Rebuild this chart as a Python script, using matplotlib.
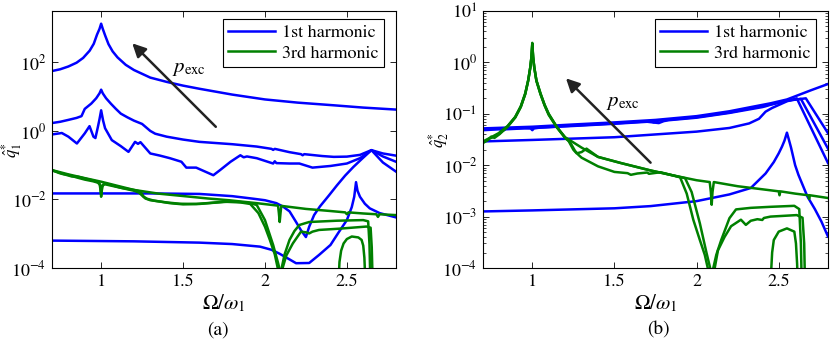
import matplotlib
matplotlib.use("Agg")
import matplotlib.pyplot as plt
from matplotlib.lines import Line2D
from matplotlib.ticker import NullLocator, LogLocator

plt.rcParams['font.family'] = 'serif'
plt.rcParams['font.serif'] = ['STIXGeneral', 'Liberation Serif', 'DejaVu Serif']
plt.rcParams['mathtext.fontset'] = 'stix'

BLUE = '#0000ff'
GREEN = '#008000'

xticks = [1, 1.5, 2, 2.5]
xtick_labels = ['1', '1.5', '2', '2.5']
legend_labels = ['1st harmonic', '3rd harmonic']

# ---------------- panel (a): q1 ----------------
a_b1_x = [0.70, 0.75, 0.80, 0.85, 0.89, 0.93, 0.955, 0.975, 0.99, 1.0, 1.01, 1.025, 1.045, 1.07, 1.10, 1.15, 1.20, 1.30, 1.40, 1.50, 1.60, 1.80, 2.0, 2.2, 2.42, 2.6, 2.8]
a_b1_y = [56, 63, 76, 98, 135, 220, 350, 650, 950, 1350, 950, 600, 340, 210, 140, 85, 60, 36, 27, 21, 17, 11.5, 8.3, 6.7, 5.6, 4.8, 4.2]

a_b2_x = [0.70, 0.75, 0.80, 0.85, 0.88, 0.90, 0.94, 0.97, 0.99, 1.0, 1.01, 1.03, 1.06, 1.09, 1.12, 1.16, 1.20, 1.23, 1.25, 1.30, 1.33, 1.40, 1.50, 1.60, 1.80, 1.95, 2.04, 2.05, 2.06, 2.15, 2.22, 2.23, 2.24, 2.35, 2.42, 2.50, 2.58, 2.65, 2.72, 2.80]
a_b2_y = [1.70, 1.85, 2.1, 2.4, 2.7, 4.4, 6.3, 9.0, 12.5, 16, 12.5, 9.0, 6.2, 4.4, 3.2, 2.5, 2.0, 1.75, 1.6, 1.0, 0.83, 0.68, 0.56, 0.48, 0.41, 0.35, 0.30, 0.28, 0.30, 0.24, 0.21, 0.195, 0.21, 0.185, 0.175, 0.178, 0.20, 0.275, 0.22, 0.19]

a_b3_x = [0.70, 0.76, 0.80, 0.852, 0.90, 0.929, 0.953, 0.965, 0.98, 0.99, 1.0, 1.012, 1.024, 1.065, 1.12, 1.167, 1.207, 1.225, 1.24, 1.30, 1.36, 1.42, 1.49, 1.52, 1.58, 1.685, 1.726, 1.79, 1.85, 1.87, 1.89, 1.95, 2.05, 2.06, 2.07, 2.15, 2.21, 2.29, 2.40, 2.50, 2.58, 2.65, 2.72, 2.80]
a_b3_y = [0.79, 0.87, 0.68, 0.43, 0.85, 1.38, 0.68, 0.62, 1.3, 2.2, 4.0, 2.0, 1.2, 0.54, 0.36, 0.245, 0.48, 0.42, 0.47, 0.22, 0.19, 0.16, 0.126, 0.085, 0.085, 0.051, 0.072, 0.126, 0.195, 0.17, 0.18, 0.16, 0.112, 0.13, 0.115, 0.112, 0.112, 0.085, 0.095, 0.112, 0.16, 0.275, 0.12, 0.065]

a_b4_x = [0.70, 1.30, 1.60, 1.80, 1.93, 2.00, 2.07, 2.11, 2.15, 2.19, 2.22, 2.25, 2.27, 2.30, 2.335, 2.39, 2.44, 2.49, 2.54, 2.59, 2.65, 2.72, 2.80]
a_b4_y = [0.015, 0.015, 0.0145, 0.0125, 0.0105, 0.0095, 0.0078, 0.0062, 0.0045, 0.0022, 0.00126, 0.0008, 0.0016, 0.0035, 0.0062, 0.013, 0.026, 0.05, 0.089, 0.15, 0.275, 0.18, 0.126]

a_b5_x = [0.70, 1.20, 1.60, 1.80, 1.97, 2.04, 2.09, 2.14, 2.19, 2.27, 2.33, 2.40, 2.45, 2.50, 2.53, 2.545, 2.556, 2.565, 2.58, 2.61, 2.64, 2.70, 2.80]
a_b5_y = [6.3e-4, 6.0e-4, 5.5e-4, 5.0e-4, 4.2e-4, 3.4e-4, 2.6e-4, 1.9e-4, 1.38e-4, 1.4e-4, 2.4e-4, 4.7e-4, 1.1e-3, 2.5e-3, 6.0e-3, 1.2e-2, 3.2e-2, 1.8e-2, 1.2e-2, 7.5e-3, 5.5e-3, 4.0e-3, 3.0e-3]

a_g1_x = [0.70, 0.80, 0.90, 1.00, 1.10, 1.20, 1.35, 1.50, 1.65, 1.78, 1.95, 2.08, 2.085, 2.09, 2.095, 2.10, 2.25, 2.40, 2.49, 2.50, 2.51, 2.60, 2.68, 2.69, 2.70, 2.80]
a_g1_y = [0.072, 0.054, 0.042, 0.033, 0.025, 0.019, 0.0148, 0.0126, 0.0107, 0.0095, 0.0078, 0.0066, 0.0040, 0.0022, 0.004, 0.0065, 0.0053, 0.0046, 0.0042, 0.0037, 0.0042, 0.0039, 0.0037, 0.0031, 0.0037, 0.0035]

a_g2_x = [0.70, 0.74, 0.76, 0.80, 0.85, 0.90, 0.95, 0.98, 0.995, 1.0, 1.005, 1.02, 1.10, 1.20, 1.23, 1.25, 1.27, 1.30, 1.40, 1.48, 1.58, 1.66, 1.75, 1.85, 1.91, 1.96, 2.00, 2.03, 2.06, 2.08, 2.10, 2.12, 2.15, 2.18, 2.21, 2.27, 2.44, 2.60, 2.63, 2.638, 2.643]
a_g2_y = [0.072, 0.060, 0.056, 0.052, 0.044, 0.038, 0.034, 0.031, 0.026, 0.012, 0.024, 0.028, 0.023, 0.018, 0.016, 0.013, 0.0107, 0.0095, 0.0082, 0.0075, 0.0074, 0.0079, 0.0086, 0.0082, 0.0074, 0.004, 0.0016, 6.6e-4, 2.5e-4, 9e-5, 9e-5, 2.5e-4, 6.6e-4, 1.2e-3, 1.8e-3, 2.2e-3, 2.4e-3, 2.5e-3, 2.3e-3, 5e-4, 5e-5]

a_g3_x = [0.70, 0.73, 0.77, 0.82, 0.86, 0.90, 0.96, 0.99, 1.0, 1.01, 1.03, 1.12, 1.20, 1.24, 1.26, 1.28, 1.32, 1.42, 1.50, 1.60, 1.70, 1.80, 1.90, 1.95, 2.00, 2.05, 2.08, 2.09, 2.105, 2.13, 2.17, 2.22, 2.25, 2.27, 2.29, 2.33, 2.45, 2.62, 2.645, 2.652, 2.657]
a_g3_y = [0.070, 0.064, 0.055, 0.047, 0.046, 0.041, 0.035, 0.030, 0.014, 0.027, 0.029, 0.022, 0.019, 0.017, 0.012, 0.0105, 0.0093, 0.0078, 0.0072, 0.0074, 0.0081, 0.0088, 0.0080, 0.0069, 0.0025, 4.7e-4, 1.4e-4, 9e-5, 9e-5, 2.3e-4, 5.2e-4, 1.15e-3, 1.1e-3, 1.02e-3, 1.15e-3, 1.29e-3, 1.4e-3, 1.62e-3, 1.5e-3, 4e-4, 5e-5]

a_g4_x = [2.45, 2.455, 2.465, 2.48, 2.50, 2.53, 2.57, 2.59, 2.60, 2.607, 2.612]
a_g4_y = [5e-5, 1.5e-4, 3.2e-4, 5.2e-4, 7e-4, 8.3e-4, 7.8e-4, 6.6e-4, 4.5e-4, 2e-4, 5e-5]

# ---------------- panel (b): q2 ----------------
b_b1_x = [0.70, 1.00, 1.25, 1.50, 1.75, 2.00, 2.20, 2.33, 2.45, 2.55, 2.61, 2.70, 2.80]
b_b1_y = [0.052, 0.056, 0.062, 0.068, 0.076, 0.090, 0.112, 0.135, 0.16, 0.19, 0.225, 0.29, 0.38]

b_b2_x = [0.70, 0.95, 0.99, 1.0, 1.01, 1.05, 1.25, 1.50, 1.72, 1.74, 1.76, 2.00, 2.20, 2.33, 2.45, 2.55, 2.635, 2.80]
b_b2_y = [0.050, 0.053, 0.052, 0.048, 0.052, 0.054, 0.059, 0.065, 0.072, 0.068, 0.073, 0.086, 0.106, 0.128, 0.152, 0.18, 0.195, 0.021]

b_b3_x = [0.70, 0.80, 0.82, 0.84, 1.0, 1.25, 1.50, 1.70, 1.77, 1.80, 1.83, 2.00, 2.20, 2.40, 2.42, 2.45, 2.55, 2.665, 2.80]
b_b3_y = [0.048, 0.050, 0.047, 0.050, 0.053, 0.058, 0.064, 0.070, 0.066, 0.072, 0.075, 0.084, 0.104, 0.135, 0.14, 0.15, 0.18, 0.20, 0.042]

b_b4_x = [0.70, 1.00, 1.50, 2.00, 2.20, 2.32, 2.38, 2.42, 2.46, 2.55, 2.61, 2.80]
b_b4_y = [0.029, 0.031, 0.035, 0.045, 0.053, 0.065, 0.080, 0.11, 0.13, 0.175, 0.20, 0.011]

b_b5_x = [0.70, 1.00, 1.50, 1.72, 2.00, 2.20, 2.33, 2.42, 2.47, 2.50, 2.52, 2.535, 2.55, 2.56, 2.575, 2.60, 2.62, 2.675, 2.72, 2.76, 2.80]
b_b5_y = [1.26e-3, 1.32e-3, 1.45e-3, 1.6e-3, 2.0e-3, 2.7e-3, 3.6e-3, 6.9e-3, 1.15e-2, 1.7e-2, 2.3e-2, 3.0e-2, 4.3e-2, 3.3e-2, 2.2e-2, 1.0e-2, 6.5e-3, 2.45e-3, 1.4e-3, 8e-4, 4.1e-4]

b_g1_x = [0.70, 0.75, 0.795, 0.85, 0.896, 0.93, 0.957, 0.975, 0.988, 0.995, 1.0, 1.005, 1.012, 1.025, 1.05, 1.075, 1.10, 1.15, 1.20, 1.30, 1.40, 1.54, 1.72, 1.85, 2.00, 2.08, 2.087, 2.092, 2.097, 2.105, 2.25, 2.40, 2.50, 2.505, 2.51, 2.60, 2.68, 2.685, 2.69, 2.80]
b_g1_y = [0.029, 0.035, 0.042, 0.058, 0.087, 0.14, 0.25, 0.45, 0.81, 1.3, 2.4, 1.3, 0.81, 0.45, 0.25, 0.15, 0.10, 0.055, 0.035, 0.022, 0.0145, 0.011, 0.0079, 0.0064, 0.0051, 0.0047, 0.0030, 0.0017, 0.0030, 0.0047, 0.0039, 0.0034, 0.0031, 0.0026, 0.0031, 0.0028, 0.0026, 0.0022, 0.0026, 0.0023]

b_g2_x = [0.70, 0.73, 0.75, 0.77, 0.80, 0.85, 0.896, 0.93, 0.957, 0.975, 0.988, 0.995, 1.0, 1.005, 1.012, 1.025, 1.05, 1.075, 1.10, 1.15, 1.20, 1.22, 1.25, 1.27, 1.30, 1.33, 1.40, 1.54, 1.72, 1.85, 1.90, 1.94, 1.98, 2.02, 2.05, 2.075, 2.095, 2.12, 2.15, 2.20, 2.24, 2.33, 2.45, 2.595, 2.625, 2.635, 2.64]
b_g2_y = [0.027, 0.031, 0.036, 0.034, 0.040, 0.056, 0.084, 0.135, 0.24, 0.44, 0.80, 1.25, 2.2, 1.25, 0.80, 0.44, 0.24, 0.145, 0.095, 0.054, 0.034, 0.030, 0.020, 0.017, 0.018, 0.021, 0.0145, 0.011, 0.0079, 0.0064, 0.0058, 0.0028, 8.7e-4, 3.5e-4, 1.8e-4, 8e-5, 8e-5, 1.8e-4, 3.5e-4, 9.3e-4, 1.38e-3, 1.48e-3, 1.55e-3, 1.62e-3, 1.4e-3, 3e-4, 5e-5]

b_g3_x = [0.70, 0.72, 0.74, 0.76, 0.80, 0.85, 0.896, 0.93, 0.957, 0.975, 0.988, 0.995, 1.0, 1.005, 1.012, 1.025, 1.05, 1.075, 1.10, 1.15, 1.20, 1.23, 1.26, 1.28, 1.30, 1.40, 1.50, 1.58, 1.60, 1.64, 1.70, 1.71, 1.78, 1.85, 1.93, 1.97, 2.02, 2.06, 2.09, 2.105, 2.13, 2.17, 2.21, 2.27, 2.30, 2.33, 2.37, 2.40, 2.41, 2.45, 2.61, 2.645, 2.655, 2.66]
b_g3_y = [0.028, 0.030, 0.033, 0.035, 0.041, 0.057, 0.086, 0.138, 0.245, 0.44, 0.80, 1.28, 2.3, 1.28, 0.80, 0.44, 0.245, 0.148, 0.098, 0.055, 0.034, 0.028, 0.019, 0.016, 0.014, 0.0095, 0.0074, 0.0070, 0.0065, 0.0069, 0.0072, 0.0068, 0.0073, 0.0064, 0.0056, 0.0030, 7.4e-4, 2.0e-4, 8e-5, 8e-5, 2.2e-4, 4.0e-4, 6.5e-4, 8.7e-4, 6.9e-4, 8.3e-4, 8.9e-4, 8.6e-4, 9.4e-4, 1.0e-3, 1.07e-3, 9.5e-4, 3e-4, 5e-5]

b_g4_x = [2.45, 2.46, 2.47, 2.50, 2.55, 2.595, 2.605, 2.612, 2.616]
b_g4_y = [5e-5, 2e-4, 3.5e-4, 5.1e-4, 5.9e-4, 5.1e-4, 3e-4, 1.2e-4, 5e-5]

# arrows: (tail, head), label position
a_arrow = ((1.70, 1.32), (1.19, 360))
a_label = (1.43, 70)
b_arrow = ((1.72, 0.0112), (1.205, 0.49))
b_label = (1.45, 0.17)

fig = plt.figure(figsize=(8.3, 3.46), dpi=100)
W, H = 830, 346
ax1 = fig.add_axes([52 / W, 1 - 268 / H, 344 / W, 257 / H])
ax2 = fig.add_axes([483 / W, 1 - 268 / H, 345 / W, 257 / H])

LW = 1.8
blue_a = [(a_b1_x, a_b1_y), (a_b2_x, a_b2_y), (a_b3_x, a_b3_y), (a_b4_x, a_b4_y), (a_b5_x, a_b5_y)]
green_a = [(a_g1_x, a_g1_y), (a_g2_x, a_g2_y), (a_g3_x, a_g3_y), (a_g4_x, a_g4_y)]
blue_b = [(b_b1_x, b_b1_y), (b_b2_x, b_b2_y), (b_b3_x, b_b3_y), (b_b4_x, b_b4_y), (b_b5_x, b_b5_y)]
green_b = [(b_g1_x, b_g1_y), (b_g2_x, b_g2_y), (b_g3_x, b_g3_y), (b_g4_x, b_g4_y)]

for ax, blues, greens in [(ax1, blue_a, green_a), (ax2, blue_b, green_b)]:
    for x, y in blues:
        ax.plot(x, y, color=BLUE, lw=LW, solid_joinstyle='round')
    for x, y in greens:
        ax.plot(x, y, color=GREEN, lw=LW, solid_joinstyle='round')
    ax.set_yscale('log')
    ax.set_xlim(0.7, 2.8)
    ax.set_xticks(xticks)
    ax.set_xticklabels(xtick_labels)
    ax.tick_params(which='both', direction='in', top=True, right=True, labelsize=13)
    ax.tick_params(which='major', length=4, width=0.6, pad=4)
    ax.tick_params(which='minor', length=2, width=0.5)
    for s in ax.spines.values():
        s.set_linewidth(0.8)
    ax.set_xlabel(r'$\Omega/\omega_1$', fontsize=15, labelpad=2)
    handles = [Line2D([], [], color=BLUE, lw=LW), Line2D([], [], color=GREEN, lw=LW)]
    leg = ax.legend(handles, legend_labels, loc='upper right', bbox_to_anchor=(0.966, 0.968),
                    borderaxespad=0, fancybox=False, framealpha=1, edgecolor='black',
                    fontsize=13, handlelength=2.6, handletextpad=0.4, borderpad=0.3, labelspacing=0.2)
    leg.get_frame().set_linewidth(0.8)

ax1.set_ylim(1e-4, 10 ** 3.5)
ax1.set_yticks([1e-4, 1e-2, 1, 1e2])
ax1.yaxis.set_minor_locator(NullLocator())
ax1.set_ylabel(r'$\hat{q}_1^{*}$', fontsize=12)
ax1.yaxis.label.set_va('center')
ax1.yaxis.set_label_coords(-0.117, 0.46)

ax2.set_ylim(1e-4, 10)
ax2.set_yticks([1e-4, 1e-3, 1e-2, 1e-1, 1, 10])
ax2.yaxis.set_minor_locator(LogLocator(base=10, subs=range(2, 10)))
ax2.set_ylabel(r'$\hat{q}_2^{*}$', fontsize=12)
ax2.yaxis.label.set_va('center')
ax2.yaxis.set_label_coords(-0.128, 0.5)

arrow_kw = dict(arrowstyle='-|>', color='#222222', lw=1.8, mutation_scale=20, shrinkA=0, shrinkB=0)
ax1.annotate('', xy=a_arrow[1], xytext=a_arrow[0], arrowprops=arrow_kw)
ax2.annotate('', xy=b_arrow[1], xytext=b_arrow[0], arrowprops=arrow_kw)
ax1.text(a_label[0], a_label[1], r'$p_{\mathrm{exc}}$', fontsize=15, ha='left', va='center')
ax2.text(b_label[0], b_label[1], r'$p_{\mathrm{exc}}$', fontsize=15, ha='left', va='center')

fig.text(218 / W, 1 - 330 / H, '(a)', fontsize=14, ha='center', va='center')
fig.text(658 / W, 1 - 330 / H, '(b)', fontsize=14, ha='center', va='center')

fig.savefig('out.png', dpi=100)
